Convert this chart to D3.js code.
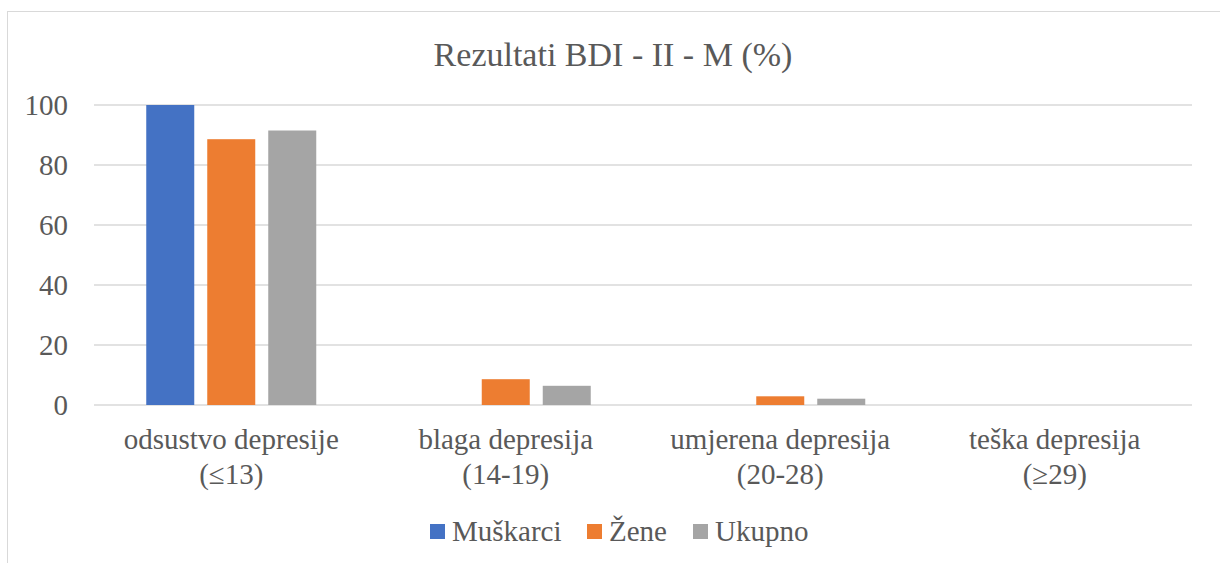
<!DOCTYPE html>
<html><head><meta charset="utf-8">
<script src="https://cdn.jsdelivr.net/npm/d3@7"></script>
<style>html,body{margin:0;padding:0;background:#fff;}svg{display:block;}
svg text{font-family:"Liberation Serif","Times New Roman",Tinos,"Noto Serif","DejaVu Serif",serif;}</style>
</head><body>
<svg id="c" width="1220" height="563"></svg>
<script>
const categories = [["odsustvo depresije","(≤13)"],["blaga depresija","(14-19)"],["umjerena depresija","(20-28)"],["teška depresija","(≥29)"]];
const seriesNames = ["Muškarci","Žene","Ukupno"];
const muskarci = [100, 0, 0, 0];
const zene = [88.6, 8.6, 2.9, 0];
const ukupno = [91.5, 6.4, 2.1, 0];
const yTicks = [0, 20, 40, 60, 80, 100];
const chartTitle = "Rezultati BDI - II - M (%)";
const colors = ["#4472C4","#ED7D31","#A5A5A5"];

(function(){
const seriesValues = [muskarci, zene, ukupno];
const svg = d3.select("#c");
const textColor = "#595959";

svg.append("rect").attr("x",7.5).attr("y",11.5).attr("width",1400).attr("height",700)
  .attr("fill","#fff").attr("stroke","#D9D9D9").attr("stroke-width",1);

const pl = 94, pr = 1192, pt = 105, pb = 405;
const x0 = d3.scaleBand().domain(d3.range(categories.length)).range([pl,pr]).padding(0);
const groupW = 170;
const x1 = d3.scaleBand().domain(d3.range(seriesNames.length)).range([0,groupW]).paddingInner(13/61).paddingOuter(0);
const y = d3.scaleLinear().domain([0,100]).range([pb,pt]);

svg.append("g").selectAll("line").data(yTicks).join("line")
  .attr("x1",pl).attr("x2",pr).attr("y1",d=>y(d)).attr("y2",d=>y(d))
  .attr("stroke","#D9D9D9").attr("stroke-width",1.5);

svg.append("g").selectAll("text").data(yTicks).join("text")
  .attr("x",68).attr("y",d=>y(d)).attr("dy","0.35em").attr("text-anchor","end")
  .attr("font-size",29).attr("fill",textColor).text(d=>d);

const g = svg.append("g");
seriesValues.forEach((vals,si)=>{
  g.append("g").selectAll("rect").data(vals).join("rect")
    .attr("x",(d,i)=>x0(i)+x0.bandwidth()/2-groupW/2+x1(si))
    .attr("width",x1.bandwidth())
    .attr("y",d=>y(d)).attr("height",d=>y(0)-y(d))
    .attr("fill",colors[si]);
});

const cat = svg.append("g").selectAll("text").data(categories).join("text")
  .attr("text-anchor","middle").attr("font-size",29).attr("fill",textColor);
cat.append("tspan").attr("x",(d,i)=>x0(i)+x0.bandwidth()/2).attr("y",449).text(d=>d[0]);
cat.append("tspan").attr("x",(d,i)=>x0(i)+x0.bandwidth()/2).attr("y",484).text(d=>d[1]);

svg.append("text").attr("x",613).attr("y",66).attr("text-anchor","middle")
  .attr("font-size",34).attr("fill",textColor).text(chartTitle);

const legX = [430, 587, 693];
const leg = svg.append("g").selectAll("g").data(seriesNames).join("g")
  .attr("transform",(d,i)=>`translate(${legX[i]},524)`);
leg.append("rect").attr("width",15).attr("height",15).attr("fill",(d,i)=>colors[i]);
leg.append("text").attr("x",22).attr("y",16.5).attr("font-size",29)
  .attr("fill",textColor).text(d=>d);
})();
</script>
</body></html>
